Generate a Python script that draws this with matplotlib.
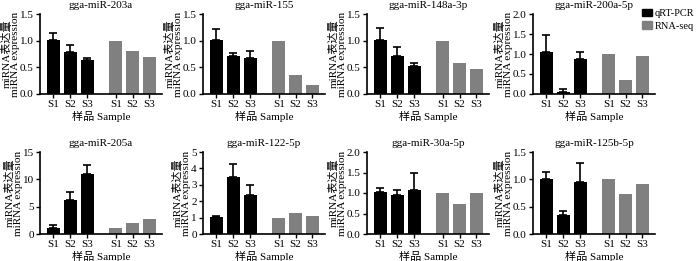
import matplotlib

matplotlib.use("Agg")
import matplotlib.pyplot as plt
from matplotlib.patches import Patch
import numpy as np

plt.rcParams["font.family"] = ["Liberation Serif", "Noto Sans CJK SC"]
plt.rcParams["font.size"] = 8

TITLES = [
    "gga-miR-203a", "gga-miR-155", "gga-miR-148a-3p", "gga-miR-200a-5p",
    "gga-miR-205a", "gga-miR-122-5p", "gga-miR-30a-5p", "gga-miR-125b-5p",
]
SAMPLES = ["S1", "S2", "S3"]

# qRT-PCR mean and upper error
QPCR = [
    [1.01, 0.79, 0.645],
    [1.02, 0.72, 0.67],
    [1.02, 0.72, 0.52],
    [1.06, 0.06, 0.865],
    [1.09, 6.2, 10.9],
    [1.02, 3.5, 2.38],
    [1.02, 0.94, 1.08],
    [1.01, 0.35, 0.95],
]
QPCR_ERR = [
    [0.14, 0.13, 0.035],
    [0.19, 0.04, 0.13],
    [0.21, 0.16, 0.06],
    [0.42, 0.06, 0.18],
    [0.49, 1.4, 1.8],
    [0.08, 0.77, 0.62],
    [0.09, 0.14, 0.40],
    [0.12, 0.07, 0.35],
]
RNASEQ = [
    [1.0, 0.80, 0.70],
    [1.0, 0.35, 0.175],
    [1.0, 0.59, 0.46],
    [1.0, 0.34, 0.95],
    [1.03, 2.06, 2.79],
    [1.0, 1.28, 1.08],
    [1.0, 0.72, 0.99],
    [1.0, 0.74, 0.91],
]
YMAX = [1.5, 1.5, 1.5, 2.0, 15, 5, 2.0, 1.5]
YSTEP = [0.5, 0.5, 0.5, 0.5, 5, 1, 0.5, 0.5]

W, H = 700, 261
fig = plt.figure(figsize=(W / 100, H / 100), dpi=100)

lefts = [40, 203, 367, 533]
rows = [(14, 94), (152, 234)]
pw = 122

x_q = np.array([0, 1, 2])
x_r = x_q + 3.7

for k in range(8):
    r, c = divmod(k, 4)
    top, bot = rows[r]
    ax = fig.add_axes([lefts[c] / W, 1 - bot / H, pw / W, (bot - top) / H])
    ax.bar(x_q, QPCR[k], 0.78, color="black")
    ax.errorbar(x_q, QPCR[k], yerr=[np.zeros(3), QPCR_ERR[k]], fmt="none",
                ecolor="black", elinewidth=1.2, capsize=3, capthick=1.2)
    ax.bar(x_r, RNASEQ[k], 0.78, color="#808080")
    ax.set_xlim(-0.8, 6.45)
    ax.set_ylim(0, YMAX[k])
    ticks = np.arange(0, YMAX[k] + 1e-9, YSTEP[k])
    ax.set_yticks(ticks)
    if YSTEP[k] < 1:
        ax.set_yticklabels([f"{t:.1f}" for t in ticks])
    else:
        ax.set_yticklabels([f"{t:g}" for t in ticks])
    ax.set_xticks(np.concatenate([x_q, x_r]), SAMPLES * 2)
    for s in ["top", "right"]:
        ax.spines[s].set_visible(False)
    for s in ["left", "bottom"]:
        ax.spines[s].set_linewidth(1.2)
    ax.tick_params(width=1.0, length=3, pad=1.5, labelsize=8)
    ax.set_title(TITLES[k], fontsize=8, pad=4)
    ax.set_ylabel("miRNA表达量\nmiRNA expression",
                  fontsize=8, linespacing=0.9, labelpad=0)
    ax.set_xlabel("样品 Sample", fontsize=8, labelpad=1)

handles = [Patch(color="black", label="qRT-PCR"), Patch(color="#808080", label="RNA-seq")]
fig.legend(handles=handles, loc="upper left", bbox_to_anchor=(642 / W, 1 - 9 / H),
           frameon=False, fontsize=7.5, handlelength=1.0, handleheight=0.7,
           handletextpad=0.25, labelspacing=0.3, borderaxespad=0, borderpad=0)

fig.savefig("out.png", dpi=100)
